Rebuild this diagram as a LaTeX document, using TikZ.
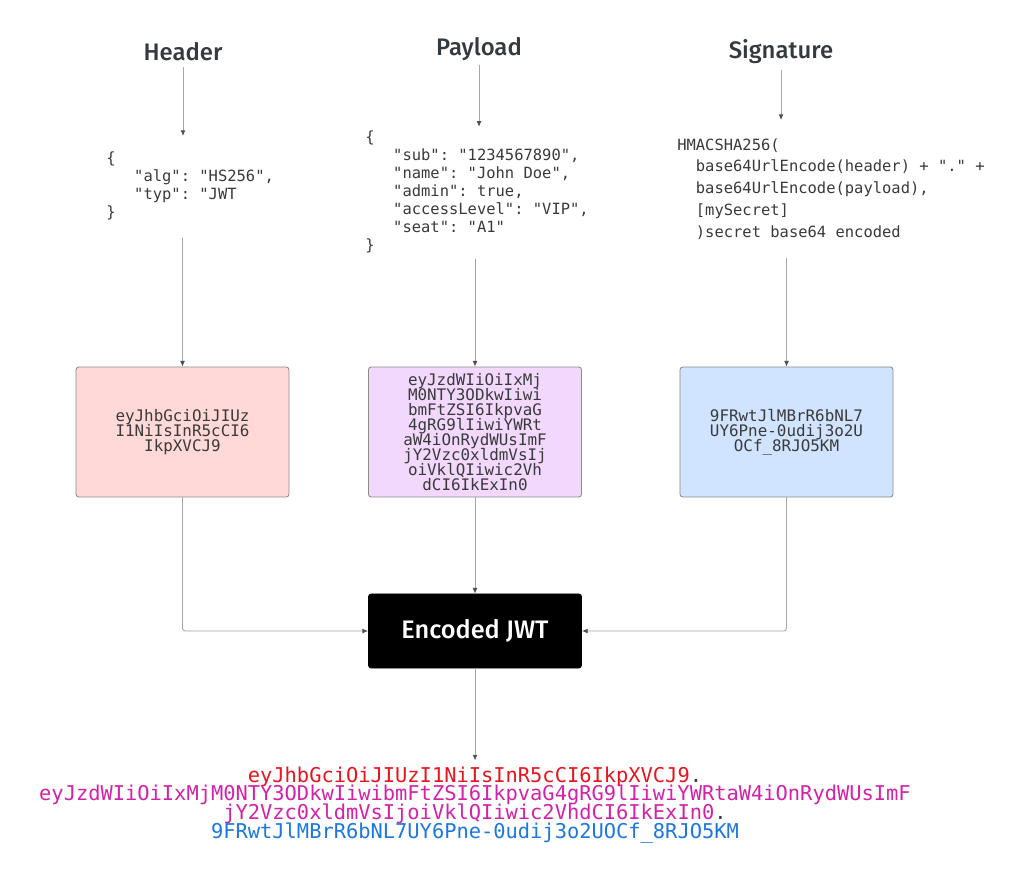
\documentclass[tikz,border=0pt]{standalone}
\usepackage{fontspec}
\setmonofont{DejaVu Sans Mono}
\newfontfamily\titlefont{Fira Sans Medium}
\usetikzlibrary{arrows.meta}
\newcommand\tightlines{\lineskiplimit -20pt\relax}
\definecolor{hdrfill}{HTML}{FFD8D8}
\definecolor{pldfill}{HTML}{F2D8FC}
\definecolor{sigfill}{HTML}{D0E4FF}
\definecolor{edge}{HTML}{8C8C8C}
\definecolor{wire}{HTML}{A6A6A6}
\definecolor{tip}{HTML}{4A4F55}
\definecolor{ink}{HTML}{343A40}
\definecolor{code}{HTML}{3A3A3A}
\definecolor{redpart}{HTML}{E8141E}
\definecolor{pinkpart}{HTML}{D322A8}
\definecolor{bluepart}{HTML}{1C78E0}
\begin{document}
\begin{tikzpicture}[x=0.025cm, y=-0.025cm,
  title/.style={font=\titlefont\fontsize{17}{20}\selectfont, text=ink, inner sep=0pt},
  code/.style={font=\ttfamily\fontsize{11}{12.8}\selectfont, text=code, align=left, inner sep=0pt, anchor=north west},
  part/.style={draw=edge, line width=0.6pt, rounded corners=2pt, minimum width=5.325cm, minimum height=3.25cm,
    align=center, text=code, font=\ttfamily\fontsize{11.3}{10.6}\selectfont\tightlines},
  conn/.style={draw=wire, line width=0.6pt, -{Latex[length=4pt,width=3.4pt,color=tip]}}]
\useasboundingbox (0,0) rectangle (1024,878);
\fill[white] (0,0) rectangle (1024,878);

% titles
\node[title] (hdr) at (183,52) {Header};
\node[title] (pld) at (479,49) {Payload};
\node[title] (sig) at (781,52) {Signature};

% decoded parts
\node[code] (hjson) at (106,151) {\{\\~~~"alg": "HS256",\\~~~"typ": "JWT\\\}};
\node[code] (pjson) at (365,130) {\{\\~~~"sub": "1234567890",\\~~~"name": "John Doe",\\~~~"admin": true,\\~~~"accessLevel": "VIP",\\~~~"seat": "A1"\\\}};
\node[code, font=\ttfamily\fontsize{11}{15.6}\selectfont] (scode) at (677,138)
  {HMACSHA256(\\~~base64UrlEncode(header) + "." +\\~~base64UrlEncode(payload),\\~~[mySecret]\\~~)secret base64 encoded};

% encoded parts
\node[part, fill=hdrfill] (hbox) at (182.5,432) {eyJhbGciOiJIUz\\I1NiIsInR5cCI6\\IkpXVCJ9};
\node[part, fill=pldfill, inner ysep=1pt] (pbox) at (475,432) {eyJzdWIiOiIxMj\\M0NTY3ODkwIiwi\\bmFtZSI6IkpvaG\\4gRG9lIiwiYWRt\\aW4iOnRydWUsImF\\jY2Vzc0xldmVsIj\\oiVklQIiwic2Vh\\dCI6IkExIn0};
\node[part, fill=sigfill] (sbox) at (786.5,432) {9FRwtJlMBrR6bNL7\\UY6Pne-0udij3o2U\\OCf\_8RJO5KM};

\node[part, fill=black, draw=black, text=white, minimum height=1.85cm,
  font=\titlefont\fontsize{18}{20}\selectfont] (jwt) at (475,631) {Encoded JWT};

\node[font=\ttfamily\fontsize{14.5}{13.3}\selectfont\tightlines, align=center, inner sep=0pt] (token) at (475,805)
  {\textcolor{redpart}{eyJhbGciOiJIUzI1NiIsInR5cCI6IkpXVCJ9}\textcolor{code}{.}\\
   \textcolor{pinkpart}{eyJzdWIiOiIxMjM0NTY3ODkwIiwibmFtZSI6IkpvaG4gRG9lIiwiYWRtaW4iOnRydWUsImF}\\
   \textcolor{pinkpart}{jY2Vzc0xldmVsIjoiVklQIiwic2VhdCI6IkExIn0}\textcolor{code}{.}\\
   \textcolor{bluepart}{9FRwtJlMBrR6bNL7UY6Pne-0udij3o2UOCf\_8RJO5KM}};

% connectors
\draw[conn, shorten <=0.15cm, shorten >=0.375cm] (hdr) -- (hdr |- hjson.north);
\draw[conn, shorten <=0.1cm, shorten >=0.08cm] (pld) -- (pld |- pjson.north);
\draw[conn, shorten <=0.15cm, shorten >=0.45cm] (sig) -- (sig |- scode.north);
\draw[conn, shorten <=0.45cm] (hbox |- hjson.south) -- (hbox);
\draw[conn, shorten <=0.15cm] (pbox |- pjson.south) -- (pbox);
\draw[conn, shorten <=0.45cm] (sbox |- scode.south) -- (sbox);
\draw[conn, rounded corners=2pt] (hbox) |- (jwt);
\draw[conn] (pbox) -- (jwt);
\draw[conn, rounded corners=2pt] (sbox) |- (jwt);
\draw[conn, shorten >=0.15cm] (jwt) -- (token);
\end{tikzpicture}
\end{document}
